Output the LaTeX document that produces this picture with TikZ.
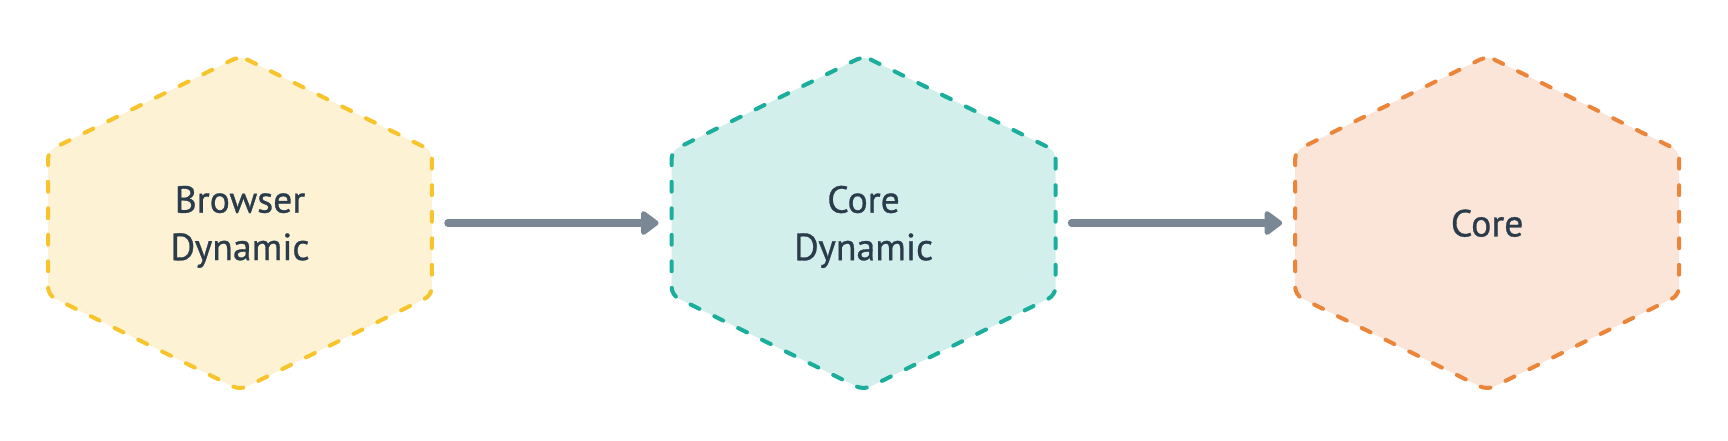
\documentclass[tikz,border=0pt]{standalone}
\usepackage{fontspec}
\usepackage{tikz}
\usetikzlibrary{arrows.meta,positioning,calc,backgrounds}
\newfontfamily\labelfont[FakeBold=0.8]{PT Sans}
\definecolor{ink}{HTML}{2A3B4C}
\definecolor{arrowgray}{HTML}{7A8896}
\definecolor{yellowline}{HTML}{F8C42C}
\definecolor{yellowfill}{HTML}{FDF2D4}
\definecolor{tealline}{HTML}{1BAE9C}
\definecolor{tealfill}{HTML}{D2EFEC}
\definecolor{orangeline}{HTML}{EB853A}
\definecolor{orangefill}{HTML}{FAE5D8}

\begin{document}
\begin{tikzpicture}[
  x=0.02cm, y=-0.02cm,
  every node/.style={font=\labelfont\fontsize{21.5}{27}\selectfont, text=ink, align=center},
  hexbox/.style={minimum width=7.68cm, minimum height=6.68cm, inner sep=0pt, outer sep=0pt, text depth=0pt},
  hexa/.style={line width=2.3pt, line cap=round, dash pattern=on 5.6pt off 9.5pt, rounded corners=4.5pt},
  flow/.style={draw=arrowgray, line width=4pt, line cap=round,
    -{Triangle[length=11pt, width=15.5pt, round]}, shorten <=9pt, shorten >=7.4pt}
]
\useasboundingbox (0,0) rectangle (1728,440);

\node[hexbox] (browser) at (240,223) {Browser\\Dynamic};
\node[hexbox, right=4.794cm of browser] (coredyn) {Core\\Dynamic};
\node[hexbox, right=4.794cm of coredyn] (core) {Core};

% hexagons behind the labels
\begin{scope}[on background layer]
  \foreach \n/\l/\f in {browser/yellowline/yellowfill, coredyn/tealline/tealfill, core/orangeline/orangefill}
    \draw[hexa, draw=\l, fill=\f] (\n.north)
      -- ($(\n.north east)!0.284!(\n.south east)$) -- ($(\n.south east)!0.284!(\n.north east)$)
      -- (\n.south)
      -- ($(\n.south west)!0.284!(\n.north west)$) -- ($(\n.north west)!0.284!(\n.south west)$)
      -- cycle;
\end{scope}

\draw[flow] (browser) -- (coredyn);
\draw[flow] (coredyn) -- (core);

\end{tikzpicture}
\end{document}
